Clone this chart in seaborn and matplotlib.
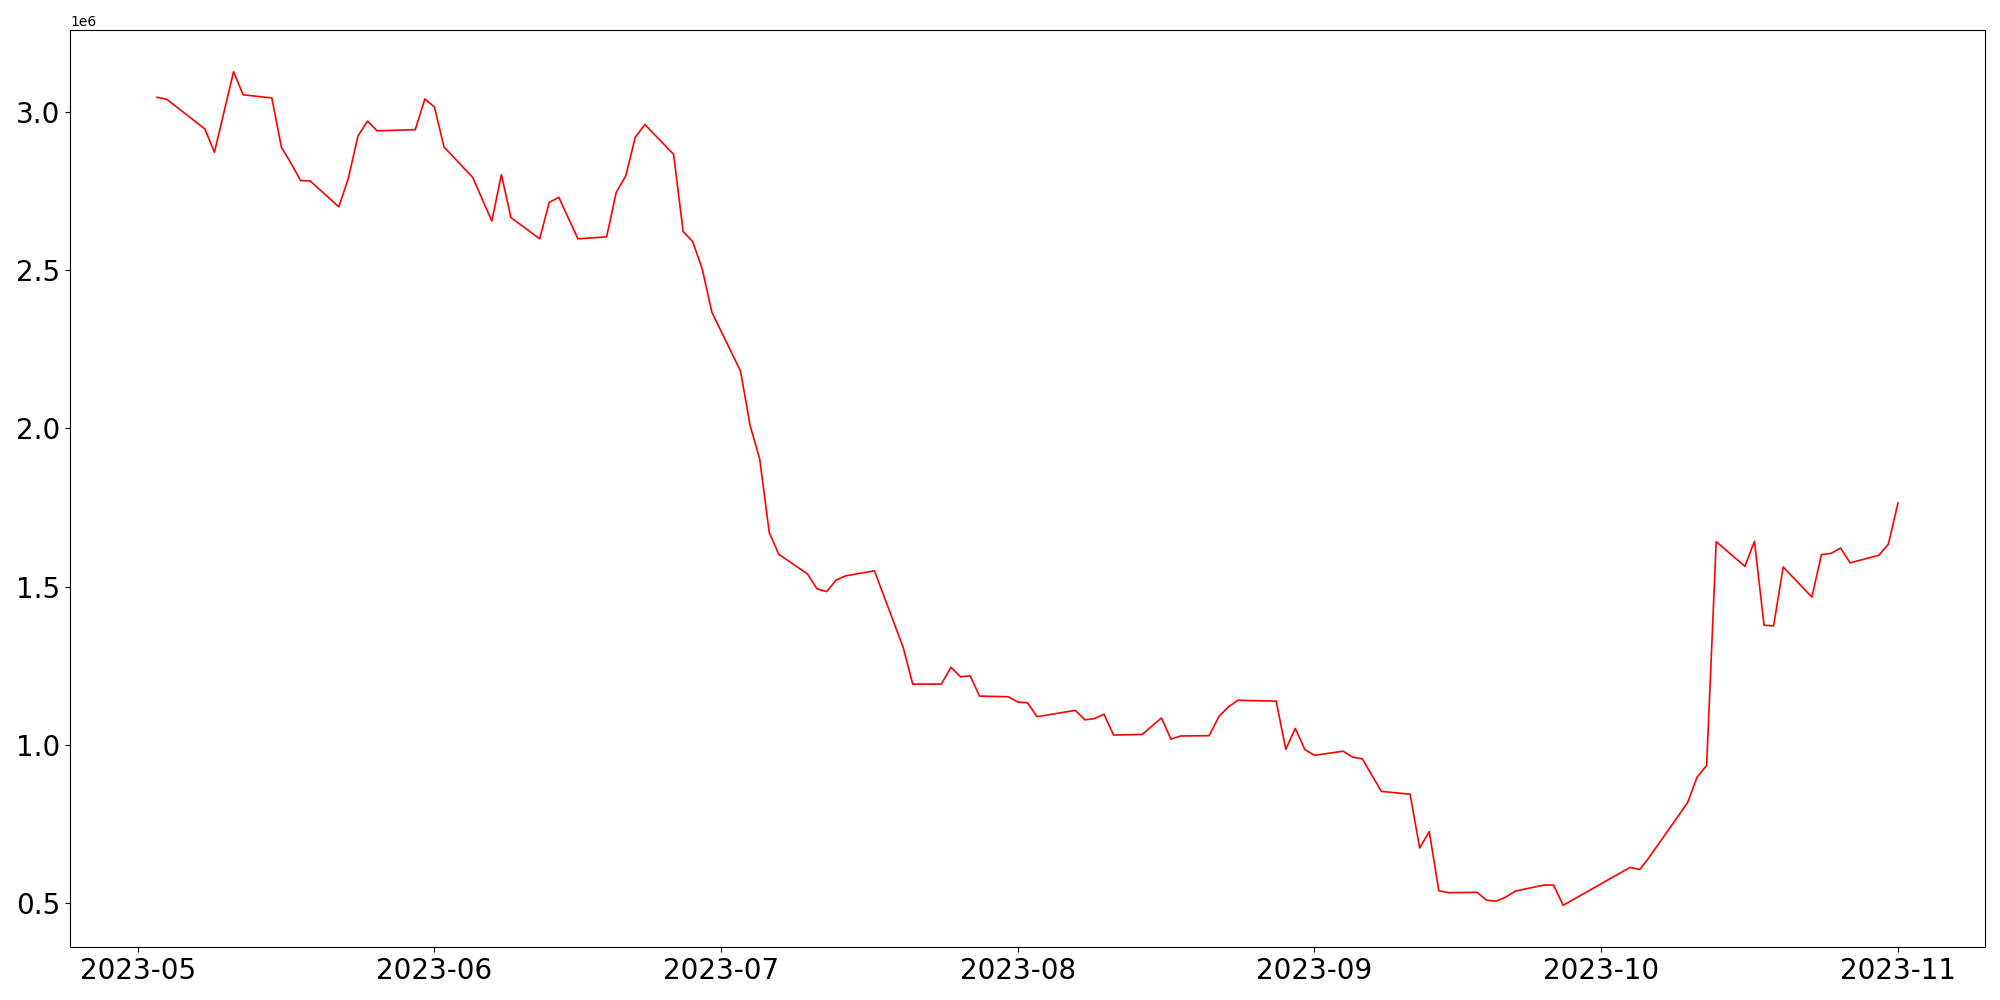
import pandas as pd
import matplotlib
matplotlib.use("Agg")
import matplotlib.pyplot as plt
import matplotlib.dates as mdates
import seaborn as sns

# values (units of 1e6)
dates = [
    "2023-05-03", "2023-05-04", "2023-05-08", "2023-05-09", "2023-05-11", "2023-05-12",
    "2023-05-15", "2023-05-16", "2023-05-17", "2023-05-18", "2023-05-19",
    "2023-05-22", "2023-05-23", "2023-05-24", "2023-05-25", "2023-05-26",
    "2023-05-30", "2023-05-31", "2023-06-01", "2023-06-02",
    "2023-06-05", "2023-06-07", "2023-06-08", "2023-06-09",
    "2023-06-12", "2023-06-13", "2023-06-14", "2023-06-16",
    "2023-06-19", "2023-06-20", "2023-06-21", "2023-06-22", "2023-06-23",
    "2023-06-26", "2023-06-27", "2023-06-28", "2023-06-29", "2023-06-30",
    "2023-07-03", "2023-07-04", "2023-07-05", "2023-07-06", "2023-07-07",
    "2023-07-10", "2023-07-11", "2023-07-12", "2023-07-13", "2023-07-14",
    "2023-07-17", "2023-07-20", "2023-07-21",
    "2023-07-24", "2023-07-25", "2023-07-26", "2023-07-27", "2023-07-28",
    "2023-07-31", "2023-08-01", "2023-08-02", "2023-08-03",
    "2023-08-07", "2023-08-08", "2023-08-09", "2023-08-10", "2023-08-11",
    "2023-08-14", "2023-08-16", "2023-08-17", "2023-08-18",
    "2023-08-21", "2023-08-22", "2023-08-23", "2023-08-24",
    "2023-08-28", "2023-08-29", "2023-08-30", "2023-08-31", "2023-09-01",
    "2023-09-04", "2023-09-05", "2023-09-06", "2023-09-07", "2023-09-08",
    "2023-09-11", "2023-09-12", "2023-09-13", "2023-09-14", "2023-09-15",
    "2023-09-18", "2023-09-19", "2023-09-20", "2023-09-21", "2023-09-22",
    "2023-09-25", "2023-09-26", "2023-09-27",
    "2023-10-04", "2023-10-05", "2023-10-06",
    "2023-10-10", "2023-10-11", "2023-10-12", "2023-10-13",
    "2023-10-16", "2023-10-17", "2023-10-18", "2023-10-19", "2023-10-20",
    "2023-10-23", "2023-10-24", "2023-10-25", "2023-10-26", "2023-10-27",
    "2023-10-30", "2023-10-31", "2023-11-01",
]
values = [
    3.046, 3.040, 2.946, 2.872, 3.127, 3.054,
    3.044, 2.888, 2.838, 2.783, 2.782,
    2.700, 2.790, 2.923, 2.971, 2.940,
    2.944, 3.041, 3.015, 2.889,
    2.793, 2.655, 2.802, 2.666,
    2.599, 2.714, 2.730, 2.599,
    2.605, 2.745, 2.798, 2.920, 2.960,
    2.866, 2.622, 2.590, 2.503, 2.367,
    2.181, 2.009, 1.904, 1.671, 1.602,
    1.540, 1.493, 1.484, 1.521, 1.534,
    1.550, 1.308, 1.192,
    1.192, 1.245, 1.215, 1.218, 1.154,
    1.152, 1.135, 1.133, 1.089,
    1.109, 1.079, 1.083, 1.097, 1.031,
    1.033, 1.085, 1.018, 1.028,
    1.029, 1.089, 1.120, 1.141,
    1.138, 0.986, 1.052, 0.985, 0.967,
    0.980, 0.961, 0.956, 0.904, 0.853,
    0.844, 0.674, 0.726, 0.539, 0.533,
    0.534, 0.509, 0.506, 0.519, 0.538,
    0.557, 0.557, 0.493,
    0.613, 0.606, 0.645,
    0.817, 0.898, 0.935, 1.642,
    1.564, 1.643, 1.378, 1.376, 1.562,
    1.467, 1.601, 1.605, 1.622, 1.575,
    1.599, 1.634, 1.764,
]

df = pd.DataFrame({"date": pd.to_datetime(dates), "value": [v * 1e6 for v in values]})

fig, ax = plt.subplots(figsize=(20, 10), dpi=100)
sns.lineplot(data=df, x="date", y="value", color="red", linewidth=1.2, ax=ax)

ax.set_xlabel("")
ax.set_ylabel("")
ax.xaxis.set_major_locator(mdates.MonthLocator())
ax.xaxis.set_major_formatter(mdates.DateFormatter("%Y-%m"))
ax.tick_params(axis="both", labelsize=20)

plt.subplots_adjust(left=0.035, right=0.9925, bottom=0.053, top=0.97)
plt.savefig("out.png", dpi=100)
